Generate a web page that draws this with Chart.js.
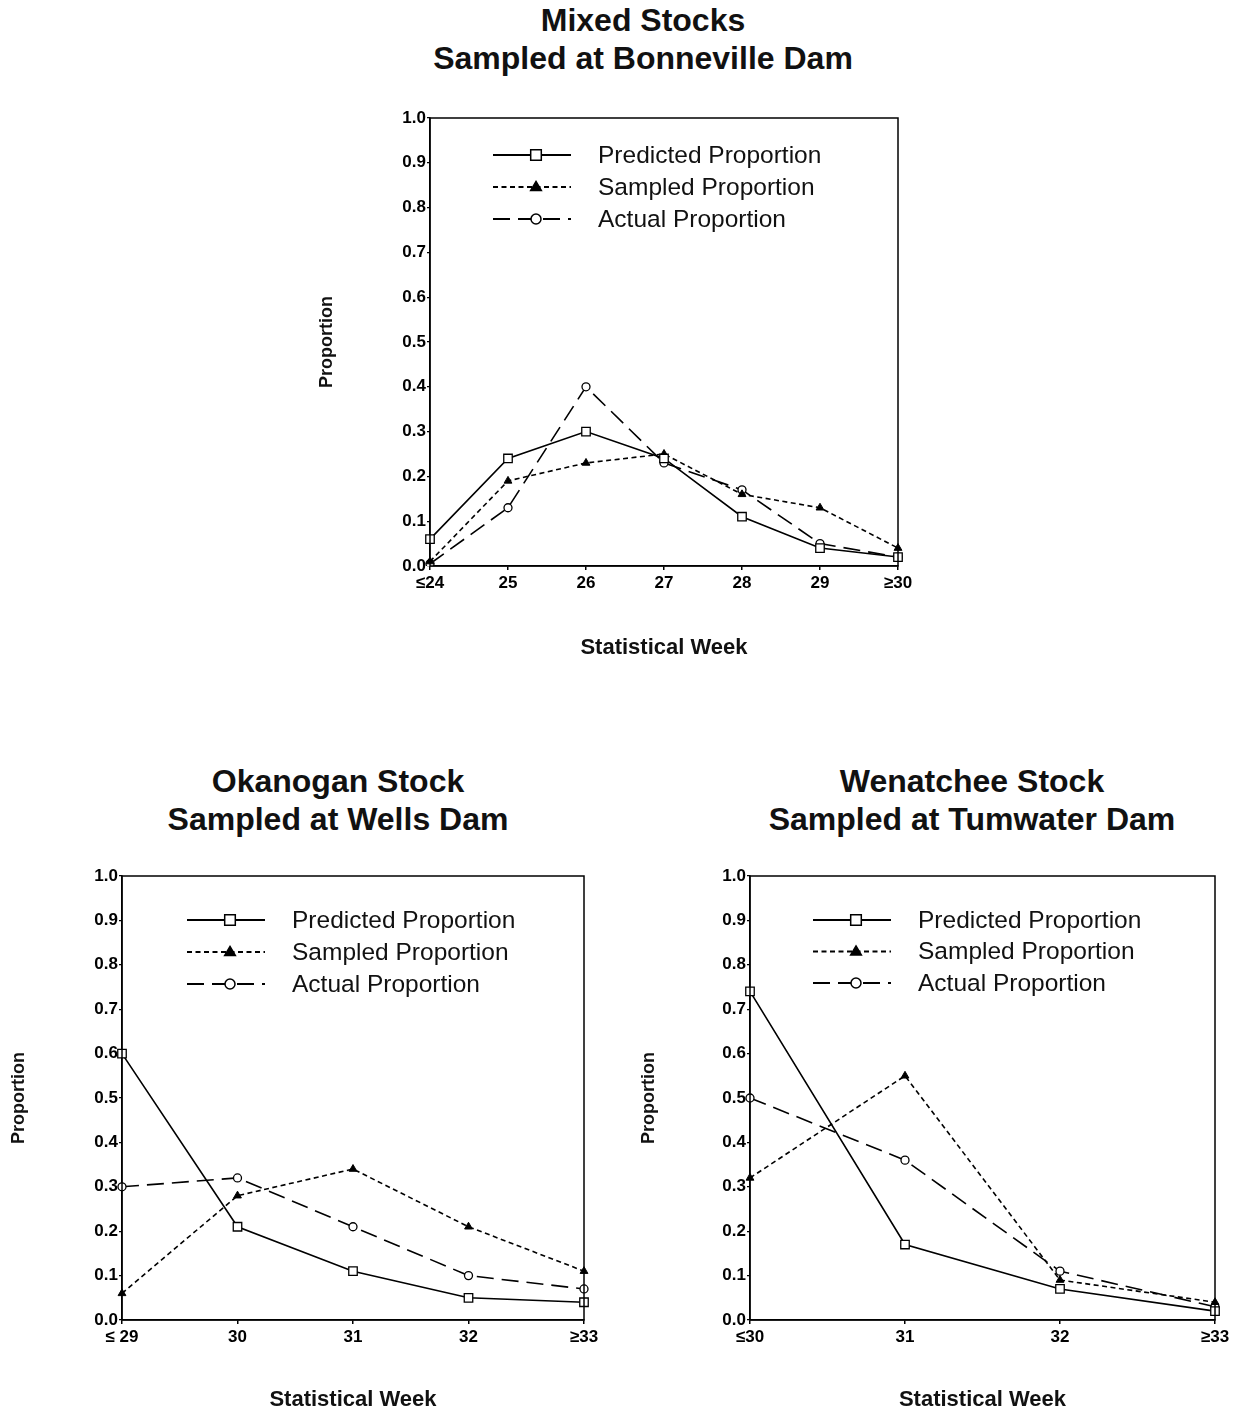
<!DOCTYPE html>
<html>
<head>
<meta charset="utf-8">
<script src="https://cdn.jsdelivr.net/npm/chart.js@4.4.1/dist/chart.umd.min.js"></script>
<style>
  body { margin: 0; background: #fff; width: 1235px; height: 1414px; position: relative; overflow: hidden; font-family: "Liberation Sans", Arial, sans-serif; }
  .title { position: absolute; font-weight: bold; font-size: 32px; line-height: 38px; text-align: center; color: #111; width: 600px; }
  .box { position: absolute; }
</style>
</head>
<body>

<div class="title" style="left:343px; top:1px;">Mixed Stocks<br>Sampled at Bonneville Dam</div>
<div class="title" style="left:38px; top:762px;">Okanogan Stock<br>Sampled at Wells Dam</div>
<div class="title" style="left:672px; top:762px;">Wenatchee Stock<br>Sampled at Tumwater Dam</div>

<div class="box" style="left:290px; top:100px; width:630px; height:580px;"><canvas id="chartMixed"></canvas></div>
<div class="box" style="left:0px; top:860px; width:610px; height:554px;"><canvas id="chartOkanogan"></canvas></div>
<div class="box" style="left:630px; top:860px; width:605px; height:554px;"><canvas id="chartWenatchee"></canvas></div>

<script>
// Mixed stocks, Bonneville Dam
var mixedWeeks = ["≤24", "25", "26", "27", "28", "29", "≥30"];
var mixedPredicted = [0.06, 0.24, 0.30, 0.24, 0.11, 0.04, 0.02];
var mixedSampled = [0.01, 0.19, 0.23, 0.25, 0.16, 0.13, 0.04];
var mixedActual = [0.005, 0.13, 0.40, 0.23, 0.17, 0.05, 0.02];

// Okanogan stock, Wells Dam
var okanWeeks = ["≤ 29", "30", "31", "32", "≥33"];
var okanPredicted = [0.60, 0.21, 0.11, 0.05, 0.04];
var okanSampled = [0.06, 0.28, 0.34, 0.21, 0.11];
var okanActual = [0.30, 0.32, 0.21, 0.10, 0.07];

// Wenatchee stock, Tumwater Dam
var wenWeeks = ["≤30", "31", "32", "≥33"];
var wenPredicted = [0.74, 0.17, 0.07, 0.02];
var wenSampled = [0.32, 0.55, 0.09, 0.04];
var wenActual = [0.50, 0.36, 0.11, 0.03];

var seriesLabels = ["Predicted Proportion", "Sampled Proportion", "Actual Proportion"];

var fontFam = "'Liberation Sans', Arial, sans-serif";

function drawMarker(ctx, style, x, y, r) {
  ctx.beginPath();
  if (style === "rect") {
    var s = r * Math.SQRT1_2;
    ctx.rect(x - s, y - s, 2 * s, 2 * s);
  } else if (style === "triangle") {
    ctx.moveTo(x, y - r);
    ctx.lineTo(x + r * 0.95, y + r * 0.6);
    ctx.lineTo(x - r * 0.95, y + r * 0.6);
    ctx.closePath();
  } else {
    ctx.arc(x, y, r, 0, Math.PI * 2);
  }
  ctx.fill();
  ctx.stroke();
}

// legend drawn inside the plot box, line sample with marker in the middle
var insideLegend = {
  id: "insideLegend",
  afterDatasetsDraw: function (chart, args, opts) {
    var ctx = chart.ctx;
    var area = chart.chartArea;
    var x0 = area.left + opts.x;
    var y0 = area.top + opts.y;
    chart.data.datasets.forEach(function (ds, i) {
      var y = y0 + i * opts.gap;
      ctx.save();
      ctx.strokeStyle = "#000";
      ctx.lineWidth = 1.8;
      ctx.setLineDash(ds.borderDash || []);
      ctx.beginPath();
      ctx.moveTo(x0, y);
      ctx.lineTo(x0 + 78, y);
      ctx.stroke();
      ctx.setLineDash([]);
      ctx.lineWidth = 1.5;
      ctx.fillStyle = ds.pointBackgroundColor;
      drawMarker(ctx, ds.pointStyle, x0 + 43, y, ds.pointRadius * 1.25);
      ctx.fillStyle = "#111";
      ctx.font = "24.5px " + fontFam;
      ctx.textBaseline = "middle";
      ctx.fillText(ds.label, x0 + 105, y + 1);
      ctx.restore();
    });
  }
};

// plain frame around the plot area
var plotFrame = {
  id: "plotFrame",
  afterDraw: function (chart) {
    var ctx = chart.ctx;
    var a = chart.chartArea;
    ctx.save();
    ctx.strokeStyle = "#000";
    ctx.lineWidth = 1.5;
    ctx.strokeRect(a.left, a.top, a.right - a.left, a.bottom - a.top);
    ctx.restore();
  }
};

function makeChart(id, weeks, predicted, sampled, actual, cfg) {
  var ctx = document.getElementById(id).getContext("2d");
  return new Chart(ctx, {
    type: "line",
    data: {
      labels: weeks,
      datasets: [
        {
          label: seriesLabels[0],
          data: predicted,
          borderColor: "#000",
          borderWidth: 1.6,
          pointStyle: "rect",
          pointRadius: 6,
          pointBackgroundColor: "#fff",
          pointBorderColor: "#000",
          pointBorderWidth: 1.3
        },
        {
          label: seriesLabels[1],
          data: sampled,
          borderColor: "#000",
          borderWidth: 1.6,
          borderDash: [5, 3.5],
          pointStyle: "triangle",
          pointRadius: 4.5,
          pointBackgroundColor: "#000",
          pointBorderColor: "#000",
          pointBorderWidth: 1
        },
        {
          label: seriesLabels[2],
          data: actual,
          borderColor: "#000",
          borderWidth: 1.6,
          borderDash: [17, 8],
          pointStyle: "circle",
          pointRadius: 4,
          pointBackgroundColor: "#fff",
          pointBorderColor: "#000",
          pointBorderWidth: 1.3
        }
      ]
    },
    options: {
      responsive: true,
      maintainAspectRatio: false,
      animation: false,
      layout: { padding: { top: cfg.padTop, right: cfg.padRight, left: 0, bottom: 0 } },
      plugins: {
        legend: { display: false },
        tooltip: { enabled: false },
        insideLegend: { x: cfg.legX, y: cfg.legY, gap: cfg.legGap }
      },
      scales: {
        x: {
          type: "category",
          offset: false,
          afterFit: function (s) { s.height = cfg.xHeight; },
          grid: { display: true, drawOnChartArea: false, drawTicks: true, tickLength: 4, color: "#000", lineWidth: 1.5 },
          border: { display: true, color: "#000", width: 1.5 },
          ticks: { color: "#000", padding: 3, maxRotation: 0, autoSkip: false, font: { family: fontFam, size: 17, weight: "bold" } },
          title: { display: true, text: "Statistical Week", color: "#111", padding: { top: 0, bottom: cfg.xTitlePad }, font: { family: fontFam, size: 22, weight: "bold" } }
        },
        y: {
          min: 0,
          max: 1,
          afterFit: function (s) { s.width = cfg.yWidth; },
          grid: { display: true, drawOnChartArea: false, drawTicks: true, tickLength: 3, color: "#000", lineWidth: 1.2 },
          border: { display: true, color: "#000", width: 1.5 },
          ticks: {
            stepSize: 0.1,
            color: "#000",
            padding: 1,
            font: { family: fontFam, size: 17, weight: "bold" },
            callback: function (v) { return v.toFixed(1); }
          },
          title: { display: true, text: "Proportion", color: "#111", padding: { top: cfg.yTitlePad, bottom: 0 }, font: { family: fontFam, size: 18, weight: "bold" } }
        }
      }
    },
    plugins: [insideLegend, plotFrame]
  });
}

makeChart("chartMixed", mixedWeeks, mixedPredicted, mixedSampled, mixedActual,
  { padTop: 18, padRight: 22, yWidth: 140, xHeight: 114, xTitlePad: 19, yTitlePad: 26, legX: 63, legY: 37, legGap: 32 });
makeChart("chartOkanogan", okanWeeks, okanPredicted, okanSampled, okanActual,
  { padTop: 16, padRight: 26, yWidth: 122, xHeight: 94, xTitlePad: 1, yTitlePad: 8, legX: 65, legY: 44, legGap: 32 });
makeChart("chartWenatchee", wenWeeks, wenPredicted, wenSampled, wenActual,
  { padTop: 16, padRight: 20, yWidth: 120, xHeight: 94, xTitlePad: 1, yTitlePad: 8, legX: 63, legY: 44, legGap: 31.5 });
</script>
</body>
</html>
